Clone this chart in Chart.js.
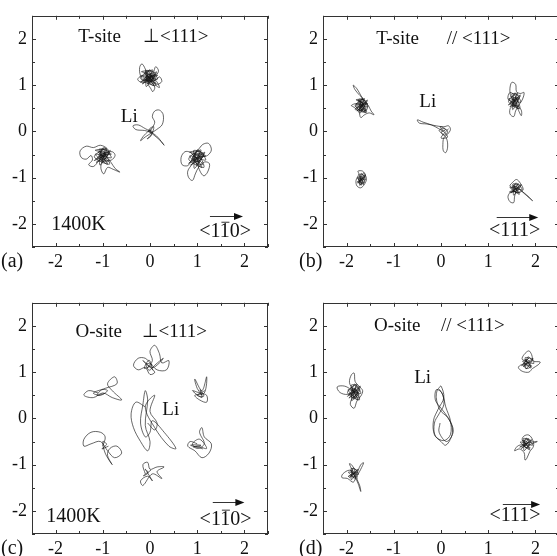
<!DOCTYPE html>
<html>
<head>
<meta charset="utf-8">
<script src="https://cdn.jsdelivr.net/npm/chart.js@4.4.0/dist/chart.umd.min.js"></script>
<style>
html, body { margin: 0; padding: 0; background: #fff; width: 557px; height: 556px; overflow: hidden; }
canvas { position: absolute; }
</style>
</head>
<body>
<canvas id="pa" width="280" height="280" style="left:0;top:0"></canvas>
<canvas id="pb" width="280" height="280" style="left:291px;top:0"></canvas>
<canvas id="pc" width="280" height="280" style="left:0;top:287px"></canvas>
<canvas id="pd" width="280" height="280" style="left:291px;top:287px"></canvas>
<script>
// axis range and tick labels shared by all four panels
const axisMin = -2.5, axisMax = 2.5;
const tickLabels = [-2, -1, 0, 1, 2];

// (a) T-site, perpendicular to <111>
const aTop = [[-0.02,1.15],[0.08,1.2],[0.12,1.12],[0.0,1.08],[-0.1,1.14],[-0.05,1.22],[0.05,1.17],[-0.12,1.1],[-0.2,1.2],[-0.22,1.38],[-0.17,1.46],[-0.1,1.35],[-0.04,1.18],[0.1,1.1],[0.2,1.18],[0.25,1.08],[0.15,1.02],[0.02,1.12],[-0.08,1.2],[0.06,1.26],[0.12,1.4],[0.18,1.3],[0.08,1.16],[-0.05,1.06],[0.02,0.92],[0.06,0.86],[0.1,0.96],[-0.02,1.1],[-0.15,1.05],[-0.26,1.12],[-0.18,1.2],[-0.05,1.15],[0.1,1.22],[0.04,1.08],[-0.08,1.12],[0.0,1.2],[0.14,1.08],[0.2,0.95],[0.12,1.0],[-0.02,1.18],[-0.12,1.25],[-0.04,1.3],[0.06,1.12],[-0.06,1.1],[0.03,1.16],
    [-0.2,1.07],[0.12,1.25],[-0.1,1.31],[0.08,0.99],[-0.18,1.21],[0.16,1.13],[-0.02,1.33],[-0.08,0.97],[0.14,1.29],[-0.16,1.03],[0.04,1.19],[-0.12,1.25],[0.1,1.05],[-0.06,1.09],[0.06,1.33],[-0.2,1.15],[0.12,0.99],[0.0,1.23],[-0.14,1.11],[0.08,1.21],[-0.04,1.03],[0.02,1.29],[-0.18,1.29],[0.16,1.21],[-0.08,1.17],[0.04,1.07]];
const aLi = [[0,0],[0.05,0.08],[0.1,0.2],[0.05,0.32],[0.1,0.44],[0.2,0.46],[0.28,0.36],[0.26,0.15],[0.14,0.04],[0.02,-0.04],[-0.1,-0.12],[-0.2,-0.2],[-0.12,-0.08],[0.0,0.02],[0.06,-0.02],[-0.1,0.06],[-0.25,0.14],[-0.36,0.12],[-0.3,0.04],[-0.12,0.02],[0.02,-0.02],[0.14,-0.1],[0.24,-0.22],[0.3,-0.3],[0.2,-0.18],[0.06,-0.06],[-0.02,0.04],[0.08,0.1],[0.02,-0.1],[-0.06,-0.16],[0.04,-0.04],[-0.04,0.0],[0.03,0.06]];
const aLeft = [[-1.0,-0.5],[-0.92,-0.44],[-0.96,-0.35],[-1.05,-0.42],[-0.98,-0.55],[-0.88,-0.5],[-0.9,-0.38],[-1.05,-0.3],[-1.2,-0.35],[-1.35,-0.32],[-1.48,-0.42],[-1.46,-0.56],[-1.35,-0.6],[-1.25,-0.52],[-1.22,-0.62],[-1.3,-0.72],[-1.2,-0.76],[-1.08,-0.64],[-1.0,-0.6],[-0.9,-0.58],[-0.82,-0.68],[-0.74,-0.8],[-0.64,-0.88],[-0.78,-0.82],[-0.9,-0.78],[-0.98,-0.92],[-1.04,-0.8],[-1.02,-0.66],[-0.95,-0.48],[-0.8,-0.44],[-0.74,-0.52],[-0.82,-0.62],[-0.96,-0.62],[-1.08,-0.52],[-1.0,-0.42],[-0.94,-0.52],[-1.04,-0.56],[-0.96,-0.46],
    [-1.18,-0.63],[-0.86,-0.45],[-1.08,-0.39],[-0.9,-0.71],[-1.16,-0.49],[-0.82,-0.57],[-1.0,-0.37],[-1.06,-0.73],[-0.84,-0.41],[-1.14,-0.67],[-0.94,-0.51],[-1.1,-0.45],[-0.88,-0.65],[-1.04,-0.61],[-0.92,-0.37],[-1.18,-0.55],[-0.86,-0.71],[-0.98,-0.47],[-1.12,-0.59],[-0.9,-0.49],[-1.02,-0.67],[-0.96,-0.41],[-1.16,-0.41],[-0.82,-0.49],[-1.06,-0.53],[-0.94,-0.63]];
const aRight = [[1.0,-0.6],[0.92,-0.52],[0.85,-0.45],[0.74,-0.44],[0.66,-0.56],[0.68,-0.72],[0.8,-0.74],[0.88,-0.62],[0.95,-0.48],[1.05,-0.36],[1.12,-0.28],[1.24,-0.26],[1.3,-0.4],[1.22,-0.52],[1.1,-0.56],[1.02,-0.7],[1.06,-0.86],[1.14,-0.96],[1.22,-0.88],[1.26,-0.7],[1.16,-0.66],[1.04,-0.76],[0.96,-0.92],[0.9,-1.06],[0.82,-1.0],[0.8,-0.86],[0.9,-0.7],[1.0,-0.56],[1.1,-0.48],[0.98,-0.5],[0.9,-0.56],[0.96,-0.66],[1.06,-0.62],[1.14,-0.5],[1.0,-0.44],[0.92,-0.6],[1.02,-0.66],[0.98,-0.58],
    [0.82,-0.69],[1.14,-0.49],[0.92,-0.42],[1.1,-0.78],[0.84,-0.53],[1.18,-0.62],[1.0,-0.4],[0.94,-0.8],[1.16,-0.45],[0.86,-0.73],[1.06,-0.56],[0.9,-0.49],[1.12,-0.71],[0.96,-0.67],[1.08,-0.4],[0.82,-0.6],[1.14,-0.78],[1.02,-0.51],[0.88,-0.64],[1.1,-0.53],[0.98,-0.73],[1.04,-0.45],[0.84,-0.45],[1.18,-0.53],[0.94,-0.58],[1.06,-0.69]];

// (b) T-site, parallel to <111>
const bUL = [[-1.68,0.55],[-1.6,0.6],[-1.56,0.5],[-1.64,0.42],[-1.74,0.46],[-1.8,0.56],[-1.72,0.62],[-1.66,0.7],[-1.74,0.8],[-1.82,0.9],[-1.86,1.0],[-1.78,0.92],[-1.7,0.78],[-1.62,0.66],[-1.54,0.56],[-1.48,0.44],[-1.42,0.36],[-1.52,0.4],[-1.62,0.36],[-1.7,0.3],[-1.74,0.42],[-1.84,0.52],[-1.9,0.56],[-1.78,0.6],[-1.66,0.5],[-1.6,0.44],[-1.68,0.62],[-1.76,0.68],[-1.64,0.58],[-1.72,0.5],[-1.66,0.46],
    [-1.82,0.48],[-1.58,0.64],[-1.74,0.69],[-1.6,0.41],[-1.8,0.6],[-1.55,0.53],[-1.68,0.71],[-1.72,0.39],[-1.56,0.68],[-1.78,0.44],[-1.64,0.59],[-1.76,0.64],[-1.59,0.46],[-1.71,0.5],[-1.62,0.71],[-1.82,0.55],[-1.58,0.41],[-1.67,0.62],[-1.77,0.51],[-1.6,0.6],[-1.7,0.44],[-1.65,0.68],[-1.8,0.68],[-1.55,0.6],[-1.72,0.57],[-1.64,0.48]];
const bLL = [[-1.7,-1.0],[-1.64,-0.9],[-1.58,-1.02],[-1.62,-1.14],[-1.7,-1.22],[-1.78,-1.18],[-1.8,-1.06],[-1.74,-0.92],[-1.76,-0.86],[-1.66,-0.86],[-1.6,-0.96],[-1.68,-1.06],[-1.76,-1.0],[-1.7,-1.12],[-1.62,-1.1],[-1.66,-0.98],[-1.72,-1.04],[-1.68,-1.16],[-1.74,-1.1],[-1.66,-1.02],
    [-1.78,-1.1],[-1.62,-0.97],[-1.73,-0.93],[-1.64,-1.15],[-1.77,-1.0],[-1.6,-1.05],[-1.69,-0.91],[-1.72,-1.17],[-1.61,-0.94],[-1.76,-1.12],[-1.66,-1.01],[-1.74,-0.97],[-1.63,-1.11],[-1.71,-1.08]];
const bLi = [[0.05,0],[-0.05,0.06],[-0.2,0.14],[-0.38,0.2],[-0.5,0.25],[-0.46,0.18],[-0.3,0.16],[-0.1,0.12],[0.06,0.1],[0.16,0.12],[0.2,0.04],[0.14,-0.06],[0.06,-0.14],[0.04,-0.28],[0.05,-0.42],[0.1,-0.46],[0.14,-0.34],[0.12,-0.16],[0.04,-0.06],[-0.04,0.02],[0.06,0.06],[0.14,0.0],[0.08,-0.08],[0.0,-0.02],[0.1,0.04],[-0.02,0.1],[0.14,-0.12],[0.0,-0.14],[0.16,0.06]];
const bUR = [[1.55,0.65],[1.48,0.76],[1.46,0.92],[1.5,1.06],[1.58,1.02],[1.6,0.86],[1.68,0.82],[1.76,0.84],[1.72,0.68],[1.64,0.56],[1.58,0.44],[1.54,0.32],[1.46,0.38],[1.48,0.52],[1.6,0.56],[1.7,0.46],[1.7,0.34],[1.62,0.5],[1.54,0.62],[1.42,0.7],[1.46,0.84],[1.56,0.78],[1.62,0.66],[1.52,0.56],[1.58,0.7],[1.64,0.74],[1.54,0.68],
    [1.43,0.57],[1.67,0.75],[1.5,0.81],[1.64,0.49],[1.44,0.71],[1.69,0.63],[1.56,0.83],[1.52,0.47],[1.68,0.79],[1.46,0.53],[1.6,0.69],[1.48,0.75],[1.65,0.55],[1.53,0.59],[1.62,0.83],[1.43,0.65],[1.67,0.49],[1.58,0.73],[1.47,0.61],[1.64,0.71],[1.54,0.53],[1.59,0.79]];
const bLR = [[1.55,-1.25],[1.46,-1.18],[1.52,-1.1],[1.6,-1.04],[1.68,-1.12],[1.74,-1.26],[1.64,-1.32],[1.5,-1.3],[1.42,-1.4],[1.46,-1.52],[1.54,-1.54],[1.56,-1.4],[1.62,-1.24],[1.72,-1.3],[1.82,-1.38],[1.94,-1.5],[1.76,-1.34],[1.6,-1.2],[1.5,-1.22],[1.58,-1.3],[1.64,-1.18],[1.54,-1.16],[1.6,-1.28],
    [1.45,-1.31],[1.69,-1.18],[1.52,-1.14],[1.66,-1.36],[1.46,-1.21],[1.72,-1.26],[1.58,-1.12],[1.54,-1.38],[1.7,-1.15],[1.48,-1.33],[1.62,-1.22],[1.5,-1.18],[1.67,-1.32],[1.55,-1.29],[1.64,-1.12]];

// (c) O-site, perpendicular to <111>
const cTop = [[-0.05,1.1],[0.05,1.25],[0.0,1.45],[0.1,1.58],[0.2,1.4],[0.25,1.2],[0.4,1.25],[0.35,1.05],[0.15,1.05],[0.0,1.2],[-0.1,1.3],[-0.25,1.3],[-0.35,1.15],[-0.25,1.05],[-0.1,1.1],[0.0,0.95],[0.1,1.0],[-0.05,1.15],[-0.15,1.25],[0.05,1.1],[0.2,1.2],[0.28,1.3],[0.1,1.15],[-0.02,1.04],[-0.08,1.18],[0.04,1.16],[-0.12,1.08],[-0.02,1.26],[0.06,1.04]];
const cUR = [[1.1,0.5],[1.0,0.65],[0.95,0.85],[1.1,0.6],[1.2,0.9],[1.15,0.55],[0.95,0.5],[1.05,0.4],[1.2,0.35],[1.2,0.5],[1.05,0.55],[0.9,0.6],[1.1,0.45],[1.06,0.62],[1.14,0.48],[1.0,0.5],[1.16,0.6]];
const cR = [[1.0,-0.55],[0.85,-0.5],[0.8,-0.6],[0.95,-0.7],[1.1,-0.85],[1.25,-0.75],[1.3,-0.55],[1.15,-0.4],[1.1,-0.2],[1.05,-0.3],[1.15,-0.55],[1.0,-0.65],[0.9,-0.55],[1.05,-0.45],[1.2,-0.65],[1.0,-0.6],[0.92,-0.62],[1.08,-0.58],[0.86,-0.58],[1.12,-0.66]];
const cB = [[-0.1,-1.2],[-0.15,-1.0],[-0.05,-0.95],[0.0,-1.1],[0.15,-1.05],[0.3,-1.05],[0.15,-1.15],[0.25,-1.3],[0.05,-1.2],[-0.15,-1.45],[-0.2,-1.35],[-0.05,-1.25],[0.05,-1.35],[-0.1,-1.1],[-0.04,-1.18],[-0.14,-1.24],[0.02,-1.12]];
const cLL = [[-1.0,-0.6],[-0.95,-0.4],[-1.05,-0.3],[-1.25,-0.3],[-1.4,-0.45],[-1.4,-0.6],[-1.25,-0.55],[-1.05,-0.5],[-0.9,-0.7],[-0.75,-0.85],[-0.6,-0.75],[-0.7,-0.6],[-0.85,-0.65],[-0.9,-0.8],[-0.8,-1.0],[-0.95,-0.75],[-1.0,-0.5],[-0.92,-0.56],[-1.02,-0.66],[-0.88,-0.6]];
const cUL = [[-1.1,0.55],[-1.3,0.6],[-1.4,0.5],[-1.2,0.45],[-1.0,0.55],[-0.8,0.45],[-0.6,0.4],[-0.8,0.6],[-0.9,0.75],[-0.75,0.9],[-0.7,0.75],[-0.95,0.65],[-1.2,0.55],[-1.05,0.5],[-0.9,0.6],[-1.02,0.62],[-1.12,0.5],[-0.96,0.54]];
const cLi = [[-0.1,0.25],[-0.3,0.35],[-0.4,0.1],[-0.35,-0.2],[-0.2,-0.5],[-0.05,-0.7],[0.0,-0.5],[-0.1,-0.15],[-0.05,0.4],[-0.1,0.6],[-0.15,0.3],[-0.2,-0.1],[-0.1,-0.4],[0.0,-0.3],[0.05,-0.05],[0.3,-0.3],[0.55,-0.65],[0.4,-0.6],[0.1,-0.2],[-0.1,0.25],[0.1,0.5],[0.0,0.15],[0.15,-0.1],[0.1,-0.25],[-0.05,-0.1]];

// (d) O-site, parallel to <111>
const dUL = [[-1.82,0.55],[-1.9,0.62],[-2.05,0.7],[-2.2,0.68],[-2.14,0.56],[-1.98,0.52],[-1.88,0.6],[-1.94,0.78],[-1.9,0.94],[-1.84,0.98],[-1.82,0.8],[-1.74,0.7],[-1.66,0.6],[-1.7,0.48],[-1.78,0.38],[-1.84,0.22],[-1.92,0.3],[-1.88,0.44],[-1.78,0.52],[-1.72,0.62],[-1.8,0.66],[-1.9,0.5],[-1.84,0.42],[-1.76,0.56],[-1.86,0.62],[-1.8,0.48],[-1.74,0.52],[-1.84,0.58],
    [-1.98,0.48],[-1.73,0.66],[-1.9,0.72],[-1.76,0.4],[-1.97,0.62],[-1.7,0.54],[-1.84,0.74],[-1.89,0.38],[-1.71,0.7],[-1.95,0.44],[-1.79,0.6],[-1.92,0.66],[-1.74,0.46],[-1.87,0.5],[-1.78,0.74],[-1.98,0.56],[-1.73,0.4],[-1.82,0.64],[-1.94,0.52],[-1.76,0.62],[-1.86,0.44],[-1.81,0.7]];
const dLL = [[-1.85,-1.2],[-1.94,-1.12],[-2.08,-1.2],[-2.1,-1.28],[-1.98,-1.3],[-1.86,-1.38],[-1.8,-1.26],[-1.76,-1.14],[-1.7,-1.0],[-1.64,-0.96],[-1.7,-1.1],[-1.78,-1.28],[-1.72,-1.46],[-1.7,-1.58],[-1.76,-1.4],[-1.88,-1.12],[-1.94,-0.98],[-1.88,-1.02],[-1.82,-1.18],[-1.9,-1.24],[-1.84,-1.28],[-1.8,-1.16],
    [-1.97,-1.26],[-1.78,-1.13],[-1.91,-1.09],[-1.8,-1.31],[-1.96,-1.16],[-1.75,-1.21],[-1.86,-1.07],[-1.9,-1.33],[-1.76,-1.1],[-1.94,-1.28],[-1.82,-1.17],[-1.92,-1.13],[-1.79,-1.27],[-1.88,-1.24]];
const dLi = [[-0.05,0.65],[0.0,0.7],[0.06,0.45],[-0.06,0.2],[-0.16,-0.05],[-0.14,-0.35],[0.0,-0.5],[0.1,-0.58],[0.22,-0.4],[0.24,-0.2],[0.14,0.02],[-0.02,0.18],[-0.1,0.45],[-0.06,0.64],[0.04,0.5],[0.1,0.25],[0.2,-0.05],[0.2,-0.35],[0.06,-0.48],[-0.12,-0.38],[-0.14,-0.1],[-0.04,0.1],[0.06,0.3],[0.02,0.55],[-0.1,0.62],[-0.12,0.4],[0.0,0.22],[0.16,0.0],[0.26,-0.28],[0.12,-0.5],[-0.04,-0.3],[-0.02,-0.1]];
const dUR = [[1.82,1.2],[1.7,1.16],[1.64,1.1],[1.72,1.02],[1.86,1.0],[1.94,1.08],[2.06,1.16],[2.1,1.22],[1.96,1.24],[1.92,1.38],[1.86,1.46],[1.76,1.38],[1.72,1.28],[1.84,1.22],[1.9,1.12],[1.8,1.08],[1.76,1.2],[1.86,1.3],[1.8,1.24],
    [1.71,1.14],[1.94,1.27],[1.78,1.31],[1.91,1.09],[1.73,1.24],[1.97,1.19],[1.84,1.33],[1.8,1.07],[1.95,1.3],[1.74,1.12],[1.88,1.23],[1.77,1.27],[1.92,1.13],[1.81,1.16]];
const dLR = [[1.8,-0.55],[1.72,-0.46],[1.76,-0.38],[1.86,-0.36],[1.94,-0.46],[1.96,-0.6],[1.88,-0.72],[1.82,-0.86],[1.78,-0.9],[1.76,-0.74],[1.66,-0.66],[1.56,-0.7],[1.62,-0.6],[1.74,-0.56],[1.88,-0.52],[2.04,-0.5],[1.9,-0.56],[1.8,-0.64],[1.74,-0.5],[1.84,-0.46],[1.86,-0.6],[1.78,-0.58],
    [1.67,-0.62],[1.9,-0.48],[1.74,-0.44],[1.88,-0.68],[1.68,-0.51],[1.94,-0.58],[1.8,-0.43],[1.76,-0.7],[1.92,-0.46],[1.7,-0.65],[1.84,-0.53],[1.72,-0.48],[1.89,-0.64],[1.77,-0.6],[1.86,-0.43]];

const SERIF = "'Liberation Serif', 'Times New Roman', serif";

// frame, inward ticks, annotations
const deco = {
    id: "deco",
    afterDatasetsDraw(chart, args, o) {
        const ctx = chart.ctx, a = chart.chartArea;
        const x = chart.scales.x, y = chart.scales.y;
        ctx.save();
        ctx.strokeStyle = "#333";
        ctx.lineWidth = 1;
        ctx.strokeRect(Math.round(a.left) + 0.5, Math.round(a.top) + 0.5,
            Math.round(a.right - a.left) - 1, Math.round(a.bottom - a.top) - 1);
        ctx.beginPath();
        x.ticks.forEach(t => {
            const px = Math.round(x.getPixelForValue(t.value)) + 0.5;
            const len = Number.isInteger(t.value) ? 4 : 3;
            ctx.moveTo(px, a.bottom); ctx.lineTo(px, a.bottom - len);
            ctx.moveTo(px, a.top); ctx.lineTo(px, a.top + len);
        });
        y.ticks.forEach(t => {
            const py = Math.round(y.getPixelForValue(t.value)) + 0.5;
            const len = Number.isInteger(t.value) ? 4 : 3;
            ctx.moveTo(a.left, py); ctx.lineTo(a.left + len, py);
            ctx.moveTo(a.right, py); ctx.lineTo(a.right - len, py);
        });
        ctx.stroke();

        ctx.fillStyle = "#111";
        ctx.textBaseline = "middle";
        o.texts.forEach(t => {
            ctx.font = t.size + "px " + SERIF;
            ctx.textAlign = t.align || "left";
            ctx.fillText(t.s, x.getPixelForValue(t.x), y.getPixelForValue(t.y));
        });

        // direction label with arrow
        const d = o.dir;
        ctx.font = "20px " + SERIF;
        ctx.textAlign = "center";
        const cx = x.getPixelForValue(d.x), cy = y.getPixelForValue(d.y);
        ctx.fillText(d.s, cx, cy);
        if (d.bar != null) {
            const full = ctx.measureText(d.s).width;
            const pre = ctx.measureText(d.s.slice(0, d.bar)).width;
            const w = ctx.measureText(d.s[d.bar]).width;
            const x0 = cx - full / 2 + pre;
            ctx.beginPath();
            ctx.moveTo(x0 + 1, cy - 9.5); ctx.lineTo(x0 + w - 1, cy - 9.5);
            ctx.stroke();
        }
        const ax1 = x.getPixelForValue(d.a1), ax2 = x.getPixelForValue(d.a2), ay = Math.round(y.getPixelForValue(d.ay)) + 0.5;
        ctx.beginPath();
        ctx.moveTo(ax1, ay); ctx.lineTo(ax2 - 8, ay);
        ctx.stroke();
        ctx.beginPath();
        ctx.moveTo(ax2, ay); ctx.lineTo(ax2 - 9, ay - 3.5); ctx.lineTo(ax2 - 9, ay + 3.5);
        ctx.closePath(); ctx.fill();

        // panel letter
        ctx.font = "20px " + SERIF;
        ctx.textAlign = "left";
        ctx.fillText(o.letter, a.left + o.letterDx, a.bottom + 15);
        ctx.restore();
    }
};

function makePanel(id, tracks, notes) {
    new Chart(document.getElementById(id), {
        type: "scatter",
        data: {
            datasets: tracks.map(tr => ({
                data: tr.map(p => ({ x: p[0], y: p[1] })),
                showLine: true,
                borderColor: "#151515",
                borderWidth: 0.65,
                pointRadius: 0,
                tension: 0.35
            }))
        },
        options: {
            responsive: false,
            animation: false,
            events: [],
            layout: { padding: { top: 12, right: 12, left: 0, bottom: 0 } },
            plugins: { legend: { display: false }, tooltip: { enabled: false }, deco: notes },
            scales: {
                x: {
                    min: axisMin, max: axisMax,
                    grid: { display: false, drawTicks: false },
                    border: { display: false },
                    afterFit: s => { s.height = 33; },
                    ticks: {
                        stepSize: 0.5, autoSkip: false, maxRotation: 0, padding: 4,
                        color: "#111", font: { family: SERIF, size: 18 },
                        callback: v => tickLabels.includes(v) ? String(v) : ""
                    }
                },
                y: {
                    min: axisMin, max: axisMax,
                    grid: { display: false, drawTicks: false },
                    border: { display: false },
                    afterFit: s => { s.width = 32; },
                    ticks: {
                        stepSize: 0.5, autoSkip: false, padding: 5,
                        color: "#111", font: { family: SERIF, size: 18 },
                        callback: v => tickLabels.includes(v) ? String(v) : ""
                    }
                }
            }
        },
        plugins: [deco]
    });
}

makePanel("pa", [aTop, aLi, aLeft, aRight], {
    letter: "(a)", letterDx: -31,
    texts: [
        { s: "T-site", x: -1.52, y: 2.05, size: 19 },
        { s: "\u22A5<111>", x: -0.15, y: 2.05, size: 19 },
        { s: "Li", x: -0.44, y: 0.31, size: 19, align: "center" },
        { s: "1400K", x: -2.09, y: -2.01, size: 20 }
    ],
    dir: { s: "<110>", bar: 2, x: 1.59, y: -2.17, a1: 1.27, a2: 1.97, ay: -1.82 }
});

makePanel("pb", [bUL, bLL, bLi, bUR, bLR], {
    letter: "(b)", letterDx: -24,
    texts: [
        { s: "T-site", x: -1.37, y: 2.0, size: 19 },
        { s: "// <111>", x: 0.12, y: 2.0, size: 19 },
        { s: "Li", x: -0.28, y: 0.63, size: 19, align: "center" }
    ],
    dir: { s: "<111>", bar: null, x: 1.56, y: -2.14, a1: 1.18, a2: 2.06, ay: -1.86 }
});

makePanel("pc", [cTop, cUR, cR, cB, cLL, cUL, cLi], {
    letter: "(c)", letterDx: -31,
    texts: [
        { s: "O-site", x: -1.58, y: 1.86, size: 19 },
        { s: "\u22A5<111>", x: -0.18, y: 1.86, size: 19 },
        { s: "Li", x: 0.44, y: 0.19, size: 19, align: "center" },
        { s: "1400K", x: -2.2, y: -2.12, size: 20 }
    ],
    dir: { s: "<110>", bar: 2, x: 1.6, y: -2.19, a1: 1.33, a2: 2.0, ay: -1.8 }
});

makePanel("pd", [dUL, dLL, dLi, dUR, dLR], {
    letter: "(d)", letterDx: -24,
    texts: [
        { s: "O-site", x: -1.42, y: 2.0, size: 19 },
        { s: "// <111>", x: 0.0, y: 2.0, size: 19 },
        { s: "Li", x: -0.39, y: 0.88, size: 19, align: "center" }
    ],
    dir: { s: "<111>", bar: null, x: 1.57, y: -2.1, a1: 1.31, a2: 2.1, ay: -1.85 }
});
</script>
</body>
</html>
